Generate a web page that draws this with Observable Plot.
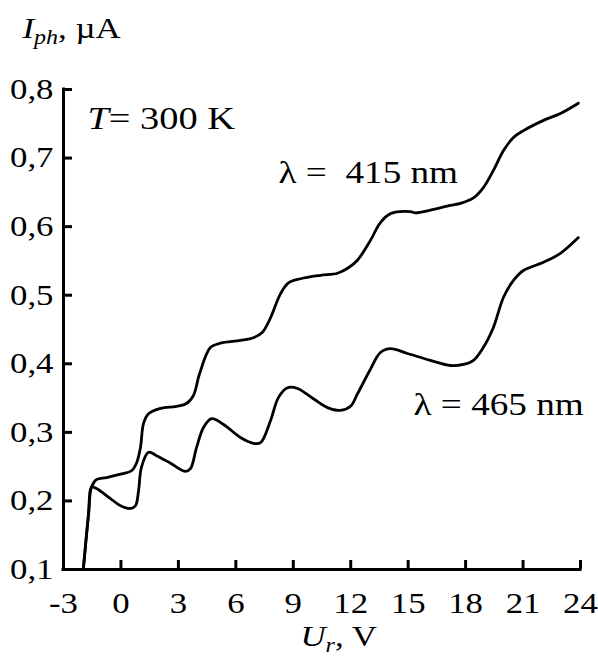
<!DOCTYPE html>
<html><head><meta charset="utf-8">
<script src="https://cdn.jsdelivr.net/npm/d3@7"></script>
<script src="https://cdn.jsdelivr.net/npm/@observablehq/plot@0.6"></script>
<style>body{margin:0;background:#fff;} svg{display:block}</style>
</head><body><div id="chart"></div>
<script>
// ---- data ----
const series = ["λ =  415 nm", "λ = 465 nm"];
const u415 = [-1.96,-1.69,-1.54,-1.28,-0.75,-0.02,0.55,0.81,1.02,1.18,1.44,2.07,2.90,3.42,3.79,4.10,4.68,5.20,6.24,6.92,7.39,7.81,8.33,8.75,9.38,10.42,11.31,11.88,12.35,13.03,13.55,14.08,15.12,15.38,16.16,17.21,17.73,18.41,18.93,19.45,19.98,20.50,21.02,22.07,22.95,23.89];
const i415 = [0.102,0.182,0.220,0.231,0.234,0.239,0.244,0.255,0.278,0.313,0.327,0.335,0.338,0.342,0.354,0.385,0.424,0.430,0.434,0.438,0.446,0.467,0.502,0.518,0.524,0.529,0.532,0.540,0.551,0.580,0.606,0.619,0.622,0.620,0.624,0.631,0.634,0.642,0.657,0.682,0.711,0.730,0.740,0.755,0.765,0.780];
const u465 = [-1.96,-1.69,-1.54,-1.28,-0.55,-0.02,0.50,0.76,0.92,1.07,1.44,1.86,2.59,3.37,3.63,3.95,4.31,4.73,5.36,6.24,6.92,7.29,7.81,8.23,8.70,9.22,10.05,10.79,11.46,11.99,12.35,13.03,13.55,14.08,14.96,16.16,17.21,17.89,18.41,18.93,19.45,19.98,20.50,21.02,22.07,22.95,23.89];
const i465 = [0.102,0.182,0.220,0.218,0.2035,0.193,0.189,0.193,0.215,0.249,0.271,0.266,0.255,0.243,0.247,0.278,0.307,0.320,0.3115,0.2925,0.284,0.285,0.317,0.351,0.365,0.364,0.349,0.336,0.332,0.338,0.356,0.392,0.4165,0.422,0.415,0.405,0.3975,0.399,0.405,0.424,0.453,0.497,0.5215,0.536,0.548,0.561,0.584];
const xTicks = [-3,0,3,6,9,12,15,18,21,24];
const yTicks = [0.1,0.2,0.3,0.4,0.5,0.6,0.7,0.8];
const yTitle = [["I","it"],["ph","sub"],[", µA",""]];
const xTitle = [["U","it"],["r","sub"],[", V",""]];
const tempLabel = [["T","it"],["= 300 K",""]];

const rows = [
  ...u415.map((u, k) => ({s: series[0], u, i: i415[k]})),
  ...u465.map((u, k) => ({s: series[1], u, i: i465[k]}))
];

// ---- layout ----
const W = 598, H = 657;
const mL = 63, mR = 18, mT = 89, mB = 88;
const fw = W - mL - mR, fh = H - mT - mB;
const FS = 29, SX = 1.2;
const fmtY = d => d.toFixed(1).replace(".", ",");
const plain = parts => parts.map(p => p[0]).join("");

const chart = Plot.plot({
  width: W, height: H,
  marginLeft: mL, marginRight: mR, marginTop: mT, marginBottom: mB,
  x: {domain: [-3, 24], axis: null},
  y: {domain: [0.1, 0.8], axis: null},
  style: {fontFamily: '"Liberation Serif", "Times New Roman", serif', fontSize: FS + "px", background: "white", color: "black"},
  marks: [
    Plot.line(rows, {x: "u", y: "i", z: "s", stroke: "black", strokeWidth: 2.8, curve: "catmull-rom"}),
    Plot.ruleX([-3], {stroke: "black", strokeWidth: 3, strokeLinecap: "square"}),
    Plot.ruleY([0.1], {stroke: "black", strokeWidth: 3, strokeLinecap: "square"}),
    Plot.tickY(yTicks, {y: d => d, stroke: "black", strokeWidth: 3, insetRight: fw - 9}),
    Plot.tickX(xTicks, {x: d => d, stroke: "black", strokeWidth: 3, insetTop: fh - 9}),
    Plot.text(yTicks, {y: d => d, text: fmtY, frameAnchor: "left", textAnchor: "end", lineAnchor: "middle", dx: -10, fontSize: FS, fill: "black"}),
    Plot.text(xTicks, {x: d => d, text: d => String(d), frameAnchor: "bottom", textAnchor: "middle", lineAnchor: "bottom", dy: 43, fontSize: FS, fill: "black"}),
    Plot.text([plain(yTitle)], {frameAnchor: "top-left", textAnchor: "start", lineAnchor: "bottom", dx: 22 - mL, dy: 37 - mT, fontSize: FS, fill: "black"}),
    Plot.text([plain(xTitle)], {frameAnchor: "bottom-left", textAnchor: "start", lineAnchor: "bottom", dx: 300 - mL, dy: 645 - (H - mB), fontSize: FS, fill: "black"}),
    Plot.text([plain(tempLabel)], {x: -1.75, y: 0.742, textAnchor: "start", lineAnchor: "bottom", fontSize: 32, fill: "black"}),
    Plot.text([series[0]], {x: 8.23, y: 0.663, textAnchor: "start", lineAnchor: "bottom", fontSize: 31, fill: "black"}),
    Plot.text([series[1]], {x: 15.28, y: 0.3246, textAnchor: "start", lineAnchor: "bottom", fontSize: 31, fill: "black"})
  ]
});

document.getElementById("chart").appendChild(chart);

// ---- rich text (italic, subscripts) ----
const NS = "http://www.w3.org/2000/svg";
function richify(parts) {
  const target = plain(parts);
  chart.querySelectorAll("text").forEach(t => {
    if (t.textContent !== target) return;
    t.textContent = "";
    let shift = 0;
    for (const [txt, kind] of parts) {
      const ts = document.createElementNS(NS, "tspan");
      ts.textContent = txt;
      if (kind === "it" || kind === "sub") ts.setAttribute("font-style", "italic");
      let want = 0;
      if (kind === "sub") { ts.setAttribute("font-size", Math.round(FS * 0.68) + "px"); want = 6; }
      if (want !== shift) { ts.setAttribute("dy", (want - shift) + "px"); shift = want; }
      t.appendChild(ts);
    }
  });
}
richify(yTitle);
richify(xTitle);
richify(tempLabel);

// ---- horizontal stretch of the lettering, as in the reference ----
chart.querySelectorAll("text").forEach(t => {
  const tr = t.getAttribute("transform") || "";
  t.setAttribute("transform", `${tr} scale(${SX},1)`);
});
</script>
</body></html>
